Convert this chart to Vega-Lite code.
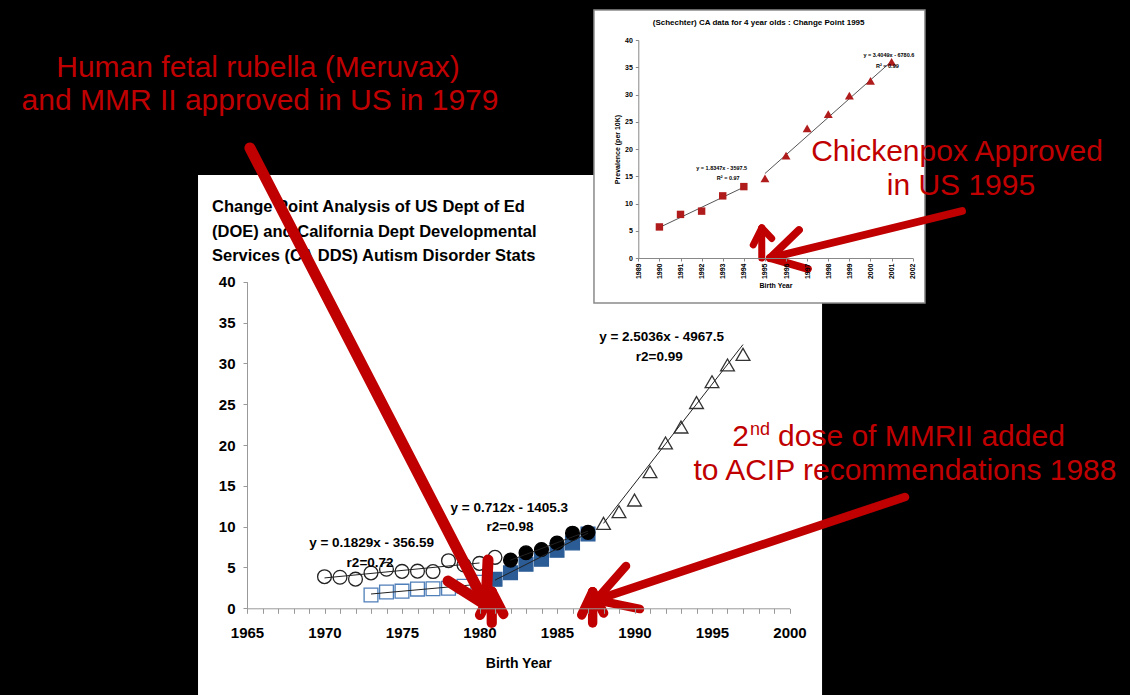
{
  "$schema": "https://vega.github.io/schema/vega-lite/v6.json",
  "width": 1130,
  "height": 695,
  "autosize": {"type": "none"},
  "padding": 0,
  "background": "#000000",
  "config": {"view": {"stroke": null}, "font": "Liberation Sans"},
  "layer": [
    {
      "encoding": {
        "x": {"field": "year", "type": "quantitative",
          "scale": {"domain": [1965, 2000], "range": [247, 789.5], "nice": false, "zero": false},
          "axis": {"orient": "bottom", "offset": -86.7, "zindex": 1,
            "values": [1965,1966,1967,1968,1969,1970,1971,1972,1973,1974,1975,1976,1977,1978,1979,1980,1981,1982,1983,1984,1985,1986,1987,1988,1989,1990,1991,1992,1993,1994,1995,1996,1997,1998,1999,2000],
            "format": "d", "labelExpr": "datum.value % 5 === 0 ? datum.label : ''",
            "labelFont": "Liberation Sans", "labelFontWeight": "bold", "labelFontSize": 15, "labelColor": "#000000",
            "labelPadding": 12, "labelOverlap": false, "labelFlush": false,
            "tickSize": 5, "tickColor": "#999999", "domainColor": "#999999", "grid": false,
            "title": "Birth Year", "titleFont": "Liberation Sans", "titleFontSize": 14, "titleFontWeight": "bold", "titleColor": "#000000", "titlePadding": 16}},
        "y": {"field": "value", "type": "quantitative",
          "scale": {"domain": [0, 40], "range": [608.3, 281.7], "nice": false, "zero": false},
          "axis": {"orient": "left", "offset": -247, "zindex": 1,
            "values": [0, 5, 10, 15, 20, 25, 30, 35, 40],
            "labelFont": "Liberation Sans", "labelFontWeight": "bold", "labelFontSize": 15, "labelColor": "#000000",
            "labelPadding": 8, "tickSize": 4, "tickColor": "#999999", "domainColor": "#999999", "grid": false, "title": null}}
      },
      "layer": [
        {
          "data": {"values": [{"panel": "main chart", "year": 1961.84, "year2": 2002.1, "value": 53.07, "value2": -11.31}]},
          "mark": {"type": "rect", "fill": "#ffffff"},
          "encoding": {"x2": {"field": "year2"}, "y2": {"field": "value2"}}
        },
        {
          "data": {"values": [
            {"series": "DOE early", "year": 1970, "value": 3.87},
            {"series": "DOE early", "year": 1971, "value": 3.8},
            {"series": "DOE early", "year": 1972, "value": 3.57},
            {"series": "DOE early", "year": 1973, "value": 4.33},
            {"series": "DOE early", "year": 1974, "value": 4.78},
            {"series": "DOE early", "year": 1975, "value": 4.52},
            {"series": "DOE early", "year": 1976, "value": 4.55},
            {"series": "DOE early", "year": 1977, "value": 4.5},
            {"series": "DOE early", "year": 1978, "value": 5.83},
            {"series": "DOE early", "year": 1979, "value": 5.3},
            {"series": "DOE early", "year": 1980, "value": 5.5},
            {"series": "DOE early", "year": 1981, "value": 6.24},
            {"series": "DDS early", "year": 1973, "value": 1.63},
            {"series": "DDS early", "year": 1974, "value": 2.0},
            {"series": "DDS early", "year": 1975, "value": 2.1},
            {"series": "DDS early", "year": 1976, "value": 2.35},
            {"series": "DDS early", "year": 1977, "value": 2.4},
            {"series": "DDS early", "year": 1978, "value": 2.45},
            {"series": "DDS early", "year": 1979, "value": 2.7},
            {"series": "DDS early", "year": 1980, "value": 3.2},
            {"series": "DDS late", "year": 1981, "value": 3.55},
            {"series": "DDS late", "year": 1982, "value": 4.35},
            {"series": "DDS late", "year": 1983, "value": 5.4},
            {"series": "DDS late", "year": 1984, "value": 6.0},
            {"series": "DDS late", "year": 1985, "value": 7.1},
            {"series": "DDS late", "year": 1986, "value": 8.0},
            {"series": "DDS late", "year": 1987, "value": 9.1},
            {"series": "DOE late", "year": 1982, "value": 5.9},
            {"series": "DOE late", "year": 1983, "value": 6.8},
            {"series": "DOE late", "year": 1984, "value": 7.2},
            {"series": "DOE late", "year": 1985, "value": 8.0},
            {"series": "DOE late", "year": 1986, "value": 9.2},
            {"series": "DOE late", "year": 1987, "value": 9.3},
            {"series": "Post 1987", "year": 1988, "value": 10.4},
            {"series": "Post 1987", "year": 1989, "value": 11.83},
            {"series": "Post 1987", "year": 1990, "value": 13.26},
            {"series": "Post 1987", "year": 1991, "value": 16.73},
            {"series": "Post 1987", "year": 1992, "value": 20.25},
            {"series": "Post 1987", "year": 1993, "value": 22.2},
            {"series": "Post 1987", "year": 1994, "value": 25.2},
            {"series": "Post 1987", "year": 1995, "value": 27.75},
            {"series": "Post 1987", "year": 1996, "value": 29.8},
            {"series": "Post 1987", "year": 1997, "value": 31.1}
          ]},
          "mark": {"type": "point", "filled": true, "opacity": 1, "strokeWidth": 1.3, "size": 190},
          "encoding": {
            "shape": {"field": "series", "type": "nominal", "legend": null,
              "scale": {"domain": ["DOE early", "DDS early", "DDS late", "DOE late", "Post 1987"], "range": ["circle", "square", "square", "circle", "triangle-up"]}},
            "fill": {"field": "series", "type": "nominal", "legend": null,
              "scale": {"domain": ["DOE early", "DDS early", "DDS late", "DOE late", "Post 1987"], "range": ["rgba(0,0,0,0)", "rgba(0,0,0,0)", "#2b5c96", "#000000", "rgba(0,0,0,0)"]}},
            "stroke": {"field": "series", "type": "nominal", "legend": null,
              "scale": {"domain": ["DOE early", "DDS early", "DDS late", "DOE late", "Post 1987"], "range": ["#222222", "#4f7fb8", "#2b5c96", "#000000", "#333333"]}}
          }
        },
        {
          "data": {"values": [
            {"fit": "DOE early", "year": 1970, "value": 3.72},
            {"fit": "DOE early", "year": 1980, "value": 5.55},
            {"fit": "DDS early", "year": 1973, "value": 1.75},
            {"fit": "DDS early", "year": 1980, "value": 2.95},
            {"fit": "DDS late", "year": 1981, "value": 3.45},
            {"fit": "DDS late", "year": 1987, "value": 9.2},
            {"fit": "DOE late", "year": 1982, "value": 5.9},
            {"fit": "DOE late", "year": 1987, "value": 9.45},
            {"fit": "Post 1987", "year": 1988, "value": 10.4},
            {"fit": "Post 1987", "year": 1997, "value": 32.3}
          ]},
          "mark": {"type": "line", "color": "#222222", "strokeWidth": 1},
          "encoding": {"detail": {"field": "fit"}}
        },
        {
          "data": {"values": [
            {"label": "y = 0.1829x - 356.59", "year": 1973.04, "value": 8.03},
            {"label": "r2=0.72", "year": 1972.94, "value": 5.51},
            {"label": "y = 0.712x - 1405.3", "year": 1981.92, "value": 12.32},
            {"label": "r2=0.98", "year": 1981.97, "value": 9.92},
            {"label": "y = 2.5036x - 4967.5", "year": 1991.75, "value": 33.27},
            {"label": "r2=0.99", "year": 1991.6, "value": 30.8}
          ]},
          "mark": {"type": "text", "font": "Liberation Sans", "fontWeight": "bold", "fontSize": 13.5, "color": "#000000", "align": "center", "baseline": "middle"},
          "encoding": {"text": {"field": "label"}}
        },
        {
          "data": {"values": [
            {"label": "Change Point Analysis of US Dept of Ed", "year": 1962.74, "value": 49.19},
            {"label": "(DOE) and California Dept Developmental", "year": 1962.74, "value": 46.12},
            {"label": "Services (CA DDS) Autism Disorder Stats", "year": 1962.74, "value": 43.12}
          ]},
          "mark": {"type": "text", "font": "Liberation Sans", "fontWeight": "bold", "fontSize": 16.5, "color": "#000000", "align": "left", "baseline": "middle"},
          "encoding": {"text": {"field": "label"}}
        }
      ]
    },
    {
      "encoding": {
        "x": {"field": "year", "type": "quantitative",
          "scale": {"domain": [1989, 2002], "range": [638.3, 912.7], "nice": false, "zero": false},
          "axis": {"orient": "bottom", "offset": -437, "zindex": 1,
            "values": [1989,1990,1991,1992,1993,1994,1995,1996,1997,1998,1999,2000,2001,2002],
            "format": "d", "labelAngle": -90, "labelFont": "Liberation Sans", "labelFontWeight": "bold", "labelFontSize": 7, "labelColor": "#000000",
            "labelPadding": 2, "labelOverlap": false, "labelFlush": false,
            "tickSize": 3, "tickColor": "#888888", "domainColor": "#888888", "grid": false,
            "title": "Birth Year", "titleFont": "Liberation Sans", "titleFontSize": 7, "titleFontWeight": "bold", "titleColor": "#000000", "titlePadding": 3}},
        "y": {"field": "value", "type": "quantitative",
          "scale": {"domain": [0, 40], "range": [258, 40], "nice": false, "zero": false},
          "axis": {"orient": "left", "offset": -638.3, "zindex": 1,
            "values": [0, 5, 10, 15, 20, 25, 30, 35, 40],
            "labelFont": "Liberation Sans", "labelFontWeight": "bold", "labelFontSize": 7, "labelColor": "#000000",
            "labelPadding": 3, "tickSize": 3, "tickColor": "#888888", "domainColor": "#888888", "grid": false,
            "title": "Prevalence (per 10K)", "titleFont": "Liberation Sans", "titleFontSize": 7, "titleFontWeight": "bold", "titleColor": "#000000", "titlePadding": 4}}
      },
      "layer": [
        {
          "data": {"values": [{"panel": "inset chart", "year": 1986.9, "year2": 2002.58, "value": 45.5, "value2": -8.26}]},
          "mark": {"type": "rect", "fill": "#ffffff", "stroke": "#8a8a8a", "strokeWidth": 1.5},
          "encoding": {"x2": {"field": "year2"}, "y2": {"field": "value2"}}
        },
        {
          "data": {"values": [
            {"fit": "before", "year": 1990, "value": 5.6},
            {"fit": "before", "year": 1994, "value": 13.0},
            {"fit": "after", "year": 1995, "value": 15.5},
            {"fit": "after", "year": 2001, "value": 36.1}
          ]},
          "mark": {"type": "line", "color": "#555555", "strokeWidth": 1},
          "encoding": {"detail": {"field": "fit"}}
        },
        {
          "data": {"values": [
            {"phase": "before", "year": 1990, "value": 5.7},
            {"phase": "before", "year": 1991, "value": 8.0},
            {"phase": "before", "year": 1992, "value": 8.6},
            {"phase": "before", "year": 1993, "value": 11.4},
            {"phase": "before", "year": 1994, "value": 13.1},
            {"phase": "after", "year": 1995, "value": 14.6},
            {"phase": "after", "year": 1996, "value": 18.8},
            {"phase": "after", "year": 1997, "value": 23.8},
            {"phase": "after", "year": 1998, "value": 26.4},
            {"phase": "after", "year": 1999, "value": 29.8},
            {"phase": "after", "year": 2000, "value": 32.5},
            {"phase": "after", "year": 2001, "value": 36.0}
          ]},
          "mark": {"type": "point", "filled": true, "color": "#b01c1c", "opacity": 1},
          "encoding": {
            "shape": {"field": "phase", "type": "nominal", "legend": null,
              "scale": {"domain": ["before", "after"], "range": ["square", "triangle-up"]}},
            "size": {"field": "phase", "type": "nominal", "legend": null,
              "scale": {"domain": ["before", "after"], "range": [55, 80]}}
          }
        },
        {
          "data": {"values": [
            {"label": "y = 1.8347x - 3597.5", "year": 1992.95, "value": 16.46},
            {"label": "R² = 0.97", "year": 1993.26, "value": 14.6},
            {"label": "y = 3.4049x - 6780.6", "year": 2000.87, "value": 37.25},
            {"label": "R² = 0.99", "year": 2000.8, "value": 35.3}
          ]},
          "mark": {"type": "text", "font": "Liberation Sans", "fontWeight": "bold", "fontSize": 5.5, "color": "#000000", "align": "center", "baseline": "middle"},
          "encoding": {"text": {"field": "label"}}
        },
        {
          "data": {"values": [
            {"label": "(Schechter) CA data for 4 year olds : Change Point 1995", "year": 1994.7, "value": 43.06}
          ]},
          "mark": {"type": "text", "font": "Liberation Sans", "fontWeight": "bold", "fontSize": 8, "color": "#000000", "align": "center", "baseline": "middle"},
          "encoding": {"text": {"field": "label"}}
        }
      ]
    },
    {
      "encoding": {
        "x": {"field": "year", "type": "quantitative", "axis": null,
          "scale": {"domain": [1965, 2000], "range": [247, 789.5], "nice": false, "zero": false}},
        "y": {"field": "value", "type": "quantitative", "axis": null,
          "scale": {"domain": [0, 40], "range": [608.3, 281.7], "nice": false, "zero": false}}
      },
      "layer": [
        {
          "data": {"values": [
            {"arrow": "rubella", "year": 1965.19, "value": 56.38, "year2": 1980.42, "value2": 0.4},
            {"arrow": "rubella", "year": 1980.42, "value": 0.4, "year2": 1980.55, "value2": 5.92},
            {"arrow": "rubella", "year": 1980.42, "value": 0.4, "year2": 1977.97, "value2": 3.34},
            {"arrow": "up1981", "year": 1980.79, "value": 2.03, "year2": 1980.79, "value2": -1.8},
            {"arrow": "up1981", "year": 1980.79, "value": 2.03, "year2": 1980.03, "value2": -0.82},
            {"arrow": "up1981", "year": 1980.79, "value": 2.03, "year2": 1981.54, "value2": -0.7},
            {"arrow": "up1987", "year": 1987.3, "value": 2.03, "year2": 1987.3, "value2": -1.8},
            {"arrow": "up1987", "year": 1987.3, "value": 2.03, "year2": 1986.59, "value2": -0.82},
            {"arrow": "up1987", "year": 1987.3, "value": 2.03, "year2": 1988.01, "value2": -0.58},
            {"arrow": "acip", "year": 2007.45, "value": 13.63, "year2": 1987.52, "value2": 1.02},
            {"arrow": "acip", "year": 1987.52, "value": 1.02, "year2": 1990.35, "value2": -0.09},
            {"arrow": "acip", "year": 1987.52, "value": 1.02, "year2": 1989.45, "value2": 5.18},
            {"arrow": "chickenpox", "year": 2011.13, "value": 48.66, "year2": 1998.74, "value2": 42.9},
            {"arrow": "chickenpox", "year": 1998.74, "value": 42.9, "year2": 2001.19, "value2": 41.56},
            {"arrow": "chickenpox", "year": 1998.74, "value": 42.9, "year2": 2000.61, "value2": 46.33},
            {"arrow": "up1995", "year": 1998.21, "value": 46.58, "year2": 1998.21, "value2": 42.9},
            {"arrow": "up1995", "year": 1998.21, "value": 46.58, "year2": 1997.66, "value2": 44.5},
            {"arrow": "up1995", "year": 1998.21, "value": 46.58, "year2": 1998.85, "value2": 45.3}
          ]},
          "mark": {"type": "rule", "color": "#c00000", "strokeCap": "round"},
          "encoding": {
            "x2": {"field": "year2"},
            "y2": {"field": "value2"},
            "strokeWidth": {"field": "arrow", "type": "nominal", "legend": null,
              "scale": {"domain": ["rubella", "up1981", "up1987", "acip", "chickenpox", "up1995"], "range": [11, 7, 7, 11, 9, 5]}}
          }
        },
        {
          "data": {"values": [
            {"label": "Human fetal rubella (Meruvax)", "year": 1965.71, "value": 66.17},
            {"label": "and MMR II approved in US in 1979", "year": 1965.84, "value": 62.13},
            {"label": "Chickenpox Approved", "year": 2010.81, "value": 55.89},
            {"label": "in US 1995", "year": 2011.06, "value": 51.72},
            {"label": "to ACIP recommendations 1988", "year": 2007.45, "value": 16.82}
          ]},
          "mark": {"type": "text", "font": "Liberation Sans", "fontSize": 30, "color": "#c00000", "align": "center", "baseline": "middle"},
          "encoding": {"text": {"field": "label"}}
        },
        {
          "data": {"values": [{"label": "2", "year": 1997.39, "value": 20.98}]},
          "mark": {"type": "text", "font": "Liberation Sans", "fontSize": 30, "color": "#c00000", "align": "right", "baseline": "middle"},
          "encoding": {"text": {"field": "label"}}
        },
        {
          "data": {"values": [{"label": "nd", "year": 1997.45, "value": 21.84}]},
          "mark": {"type": "text", "font": "Liberation Sans", "fontSize": 18, "color": "#c00000", "align": "left", "baseline": "middle"},
          "encoding": {"text": {"field": "label"}}
        },
        {
          "data": {"values": [{"label": "dose of MMRII added", "year": 1999.26, "value": 20.98}]},
          "mark": {"type": "text", "font": "Liberation Sans", "fontSize": 30, "color": "#c00000", "align": "left", "baseline": "middle"},
          "encoding": {"text": {"field": "label"}}
        }
      ]
    }
  ],
  "resolve": {
    "scale": {"x": "independent", "y": "independent", "shape": "independent", "fill": "independent", "stroke": "independent", "strokeWidth": "independent", "size": "independent"},
    "axis": {"x": "independent", "y": "independent"}
  }
}
